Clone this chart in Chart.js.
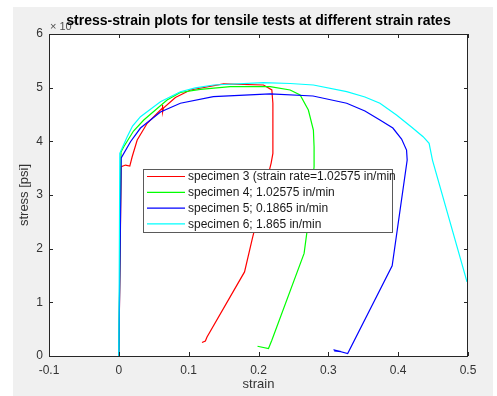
<!DOCTYPE html>
<html>
<head>
<meta charset="utf-8">
<script src="https://cdn.jsdelivr.net/npm/chart.js@4/dist/chart.umd.min.js"></script>
<style>
  html, body { margin: 0; padding: 0; background: #fff; }
  canvas { display: block; }
</style>
</head>
<body>
<canvas id="grafico" width="497" height="396"></canvas>
<script>
const titulo = 'stress-strain plots for tensile tests at different strain rates';
const etiquetas = [
    'specimen 3 (strain rate=1.02575 in/min',
    'specimen 4; 1.02575 in/min',
    'specimen 5; 0.1865 in/min',
    'specimen 6; 1.865 in/min'
];
const colores = ['#ff0000', '#00ff00', '#0000ff', '#00ffff'];

// specimen 3
const strain3 = [0, 0.0034, 0.0096, 0.0157, 0.0191, 0.0263, 0.0406, 0.062, 0.0629, 0.0624, 0.0639, 0.081, 0.1024, 0.15, 0.2071, 0.2191, 0.2206, 0.2206, 0.2181, 0.1914, 0.18, 0.1263, 0.1239, 0.1191];
const stress3 = [0, 35260, 35580, 35390, 37130, 40240, 43360, 46160, 46770, 45470, 46210, 48170, 49570, 50690, 50500, 49570, 47090, 37760, 35950, 22020, 15670, 3550, 2800, 2500];
// specimen 4
const strain4 = [0, 0.0031, 0.0071, 0.021, 0.0357, 0.0691, 0.0881, 0.1167, 0.1596, 0.2167, 0.2453, 0.2596, 0.2714, 0.2786, 0.2796, 0.2796, 0.2691, 0.2653, 0.2191, 0.2143, 0.1986];
const stress4 = [0, 38000, 38990, 41920, 43980, 47710, 49100, 49670, 50190, 50190, 49570, 48640, 45840, 42110, 38990, 35260, 22840, 19110, 2930, 1380, 1810];
// specimen 5
const strain5 = [0, 0.0034, 0.0167, 0.031, 0.0596, 0.0881, 0.1353, 0.2167, 0.2781, 0.3263, 0.3524, 0.3739, 0.3924, 0.4049, 0.412, 0.4129, 0.3914, 0.3277, 0.3074, 0.3181, 0.3084];
const stress5 = [0, 36890, 39930, 42480, 45470, 47090, 48320, 48830, 48450, 47090, 45650, 43980, 42480, 40430, 38380, 36510, 16790, 450, 1160, 820, 970];
// specimen 6
const strain6 = [0, 0.0014, 0.012, 0.0196, 0.031, 0.0596, 0.0881, 0.1096, 0.1357, 0.2071, 0.2453, 0.2786, 0.3263, 0.3524, 0.3739, 0.3976, 0.419, 0.4357, 0.4443, 0.4491, 0.4986];
const stress6 = [0, 37760, 40860, 42860, 44590, 47390, 49250, 49950, 50500, 50930, 50780, 50500, 49250, 48270, 47090, 44910, 42670, 40860, 39630, 36510, 13810];

const xTicks = [-0.1, 0, 0.1, 0.2, 0.3, 0.4, 0.5];
const xTickLabels = ['-0.1', '0', '0.1', '0.2', '0.3', '0.4', '0.5'];
const yTicks = [0, 10000, 20000, 30000, 40000, 50000, 60000];
const yTickLabels = ['0', '1', '2', '3', '4', '5', '6'];

const series = [[strain3, stress3], [strain4, stress4], [strain5, stress5], [strain6, stress6]];

const colorEje = '#262626';

// fondo gris de la figura y área blanca de los ejes
const fondo = {
    id: 'fondo',
    beforeDraw(chart) {
        const { ctx, chartArea: a } = chart;
        ctx.save();
        ctx.fillStyle = '#ffffff';
        ctx.fillRect(0, 0, chart.width, chart.height);
        ctx.fillStyle = '#f0f0f0';
        ctx.fillRect(13, 7, 480, 389);
        ctx.fillStyle = '#ffffff';
        ctx.fillRect(a.left, a.top, a.right - a.left, a.bottom - a.top);
        ctx.restore();
    }
};

// caja de los ejes con marcas hacia adentro
const marco = {
    id: 'marco',
    afterDatasetsDraw(chart) {
        const { ctx, chartArea: a, scales } = chart;
        const L = 4;
        ctx.save();
        ctx.strokeStyle = colorEje;
        ctx.lineWidth = 1;
        ctx.beginPath();
        xTicks.forEach(v => {
            const px = Math.round(scales.x.getPixelForValue(v)) + 0.5;
            ctx.moveTo(px, a.bottom); ctx.lineTo(px, a.bottom - L);
            ctx.moveTo(px, a.top); ctx.lineTo(px, a.top + L);
        });
        yTicks.forEach(v => {
            const py = Math.round(scales.y.getPixelForValue(v)) + 0.5;
            ctx.moveTo(a.left, py); ctx.lineTo(a.left + L, py);
            ctx.moveTo(a.right, py); ctx.lineTo(a.right - L, py);
        });
        ctx.stroke();
        ctx.strokeRect(a.left + 0.5, a.top + 0.5, a.right - a.left - 1, a.bottom - a.top);
        ctx.restore();
    }
};

// leyenda tipo MATLAB dentro de los ejes + titulo + multiplicador
const extras = {
    id: 'extras',
    afterDraw(chart) {
        const { ctx, chartArea: a } = chart;
        ctx.save();
        // leyenda
        ctx.fillStyle = '#ffffff';
        ctx.fillRect(143.5, 169.5, 249, 63);
        ctx.strokeStyle = '#5a5a5a';
        ctx.lineWidth = 1;
        ctx.strokeRect(143.5, 169.5, 249, 63);
        ctx.font = '12px "Liberation Sans", Arial, sans-serif';
        ctx.textBaseline = 'middle';
        etiquetas.forEach((t, i) => {
            const y = 176.5 + i * 15.8;
            ctx.strokeStyle = colores[i];
            ctx.lineWidth = 1.2;
            ctx.beginPath();
            ctx.moveTo(147, y); ctx.lineTo(185, y);
            ctx.stroke();
            ctx.fillStyle = '#1a1a1a';
            ctx.fillText(t, 188, y + 0.5);
        });
        // multiplicador x10^4
        ctx.fillStyle = '#4d4d4d';
        ctx.textBaseline = 'alphabetic';
        ctx.font = '11px "Liberation Sans", Arial, sans-serif';
        ctx.fillText('\u00d7 10', 50, 30);
        ctx.font = '8px "Liberation Sans", Arial, sans-serif';
        ctx.fillText('4', 73, 24);
        // titulo
        ctx.fillStyle = '#000000';
        ctx.font = 'bold 14px "Liberation Sans", Arial, sans-serif';
        ctx.textAlign = 'center';
        ctx.fillText(titulo, (a.left + a.right) / 2, 25);
        ctx.restore();
    }
};

new Chart(document.getElementById('grafico').getContext('2d'), {
    type: 'line',
    data: {
        datasets: series.map((s, i) => ({
            label: etiquetas[i],
            data: s[0].map((x, j) => ({ x: x, y: s[1][j] })),
            borderColor: colores[i],
            backgroundColor: colores[i],
            borderWidth: 1.2,
            pointRadius: 0,
            tension: 0,
            fill: false,
            order: 4 - i
        }))
    },
    options: {
        responsive: false,
        animation: false,
        devicePixelRatio: 1,
        layout: { padding: { left: 0, top: 34, right: 29, bottom: 0 } },
        plugins: {
            legend: { display: false },
            tooltip: { enabled: false },
            title: { display: false }
        },
        scales: {
            x: {
                type: 'linear',
                min: -0.1,
                max: 0.5,
                afterBuildTicks: s => { s.ticks = xTicks.map(v => ({ value: v })); },
                afterFit: s => { s.height = 40; },
                grid: { display: false, drawTicks: false },
                border: { display: false },
                ticks: {
                    padding: 7,
                    autoSkip: false,
                    maxRotation: 0,
                    color: '#333333',
                    font: { family: '"Liberation Sans", Arial, sans-serif', size: 12 },
                    callback: v => xTickLabels[xTicks.indexOf(v)]
                },
                title: {
                    display: true,
                    text: 'strain',
                    color: '#333333',
                    font: { family: '"Liberation Sans", Arial, sans-serif', size: 13 },
                    padding: { top: 0, bottom: 4 }
                }
            },
            y: {
                type: 'linear',
                min: 0,
                max: 60000,
                afterBuildTicks: s => { s.ticks = yTicks.map(v => ({ value: v })); },
                afterFit: s => { s.width = 49; },
                grid: { display: false, drawTicks: false },
                border: { display: false },
                ticks: {
                    padding: 6,
                    color: '#333333',
                    font: { family: '"Liberation Sans", Arial, sans-serif', size: 12 },
                    callback: v => yTickLabels[yTicks.indexOf(v)]
                },
                title: {
                    display: true,
                    text: 'stress [psi]',
                    color: '#333333',
                    font: { family: '"Liberation Sans", Arial, sans-serif', size: 13 },
                    padding: { top: 17, bottom: 0 }
                }
            }
        }
    },
    plugins: [fondo, marco, extras]
});
</script>
</body>
</html>
